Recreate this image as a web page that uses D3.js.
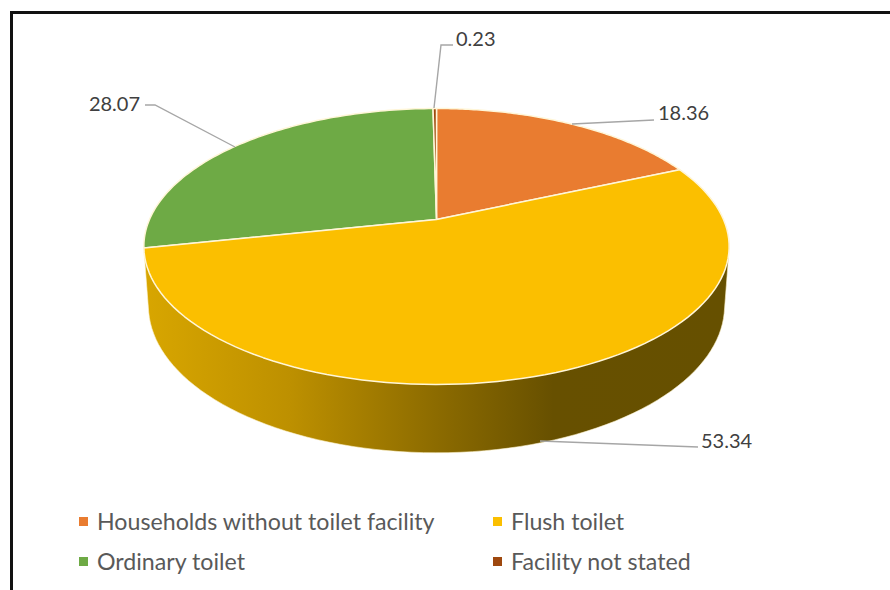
<!DOCTYPE html>
<html>
<head>
<meta charset="utf-8">
<script src="https://cdn.jsdelivr.net/npm/d3@7/dist/d3.min.js"></script>
<style>
html,body{margin:0;padding:0;background:#fff;}
svg{display:block;}
text{font-family:Lato,"Open Sans",sans-serif;}
</style>
</head>
<body>
<svg id="chart" width="890" height="590"></svg>
<script>
const categories = ["Households without toilet facility","Flush toilet","Ordinary toilet","Facility not stated"];
const values = [18.36,53.34,28.07,0.23];
const colors = ["#E97C30","#FBBF00","#6EAA45","#9E480E"];
const labelText = ["18.36","53.34","28.07","0.23"];

const svg = d3.select("#chart");
// frame: open on the right and bottom, as it is cropped by the picture edge
svg.append("path").attr("d",d3.line()([[11.5,590],[11.5,12.5],[890,12.5]]))
  .attr("fill","none").attr("stroke","#111").attr("stroke-width",3);

const pie = d3.pie().sort(null)(values);
const toAngle = d3.scaleLinear().domain([0,2*Math.PI]).range([0,2*Math.PI]);

// perspective disc: maps a pie angle to a point on the tilted disc
function disc(R,Rs,p,cx,cy){
  return a=>{
    const X=Math.sin(toAngle(a)),Y=-Math.cos(toAngle(a)),w=1-p*Y;
    return [cx+R*X/w,cy+Rs*Y/w];
  };
}
const top_ = disc(287,132.7,0.1956,436.5,219.5);
const bottom = disc(282.5,141.4,0.1956,436.5,277);
const arcPts=(f,a0,a1)=>d3.range(0,97).map(i=>f(a0+(a1-a0)*i/96));

const defs = svg.append("defs");
const grad = defs.append("linearGradient").attr("id","wall").attr("gradientUnits","userSpaceOnUse")
  .attr("x1",144).attr("x2",729).attr("y1",0).attr("y2",0);
[[0,"#d8a600"],[0.25,"#bd9000"],[0.5,"#8c6b00"],[0.70,"#675000"],[1,"#665000"]]
  .forEach(s=>grad.append("stop").attr("offset",s[0]).attr("stop-color",s[1]));

const line = d3.line();
// side wall of the big slice
const big = pie[1];
const hull = d3.polygonHull(arcPts(top_,big.startAngle,big.endAngle).concat(arcPts(bottom,big.startAngle,big.endAngle)));
svg.append("path").attr("d",line(hull)+"Z").attr("fill","url(#wall)")
  .attr("stroke","#fdf3cf").attr("stroke-width",0.6);

// top faces
svg.append("g").selectAll("path").data(pie.map((d,i)=>({d,i})).sort((a,b)=>a.i===1?1:b.i===1?-1:0)).join("path")
  .attr("d",o=>line([[436.5,219.5]].concat(arcPts(top_,o.d.startAngle,o.d.endAngle)))+"Z")
  .attr("fill",o=>colors[o.i])
  .attr("stroke","#fff6d8").attr("stroke-width",1.5).attr("stroke-linejoin","round");

// leader lines and data labels
const leaders = [
  {i:0,pts:[[572,124],[654,120]],tx:658,ty:120,anchor:"start"},
  {i:1,pts:[[540,441],[698,447]],tx:701,ty:448,anchor:"start"},
  {i:2,pts:[[235,147],[155,105],[145,105]],tx:140,ty:111,anchor:"end"},
  {i:3,pts:[[434,108],[441,45],[453,45]],tx:456,ty:46,anchor:"start"}
];
svg.append("g").selectAll("path").data(leaders).join("path")
  .attr("d",d=>line(d.pts)).attr("fill","none").attr("stroke","#a6a6a6").attr("stroke-width",1.4);
svg.append("g").selectAll("text").data(leaders).join("text")
  .attr("x",d=>d.tx).attr("y",d=>d.ty).attr("text-anchor",d=>d.anchor)
  .attr("font-size",20).attr("fill","#404040").text(d=>labelText[d.i]);

// legend
const legX = d3.scalePoint().domain([0,1]).range([79,493]);
const legY = d3.scalePoint().domain([0,1]).range([522,562]);
const leg = svg.append("g").selectAll("g").data(categories).join("g")
  .attr("transform",(d,i)=>`translate(${legX(i%2)},${legY(Math.floor(i/2))})`);
leg.append("rect").attr("x",0).attr("y",-5).attr("width",9).attr("height",9).attr("fill",(d,i)=>colors[i]);
leg.append("text").attr("x",18).attr("y",8).attr("font-size",23.2).attr("fill","#595959").text(d=>d);
</script>
</body>
</html>
